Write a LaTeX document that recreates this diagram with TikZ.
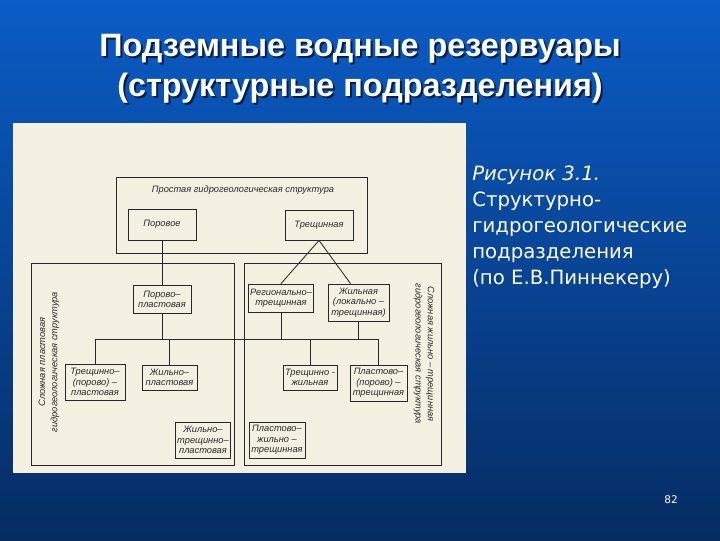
\documentclass[tikz,border=0pt]{standalone}
\usepackage{fontspec}
\setmainfont{Liberation Sans}
\newfontfamily\verd{DejaVu Sans}
\usetikzlibrary{positioning,calc}
\definecolor{bgtop}{RGB}{10,92,198}
\definecolor{bgmid}{RGB}{9,72,160}
\definecolor{bgbot}{RGB}{6,44,98}
\definecolor{scan}{RGB}{244,241,226}
\definecolor{ink}{RGB}{40,40,40}
\definecolor{shadowc}{RGB}{4,30,70}
\newcommand{\pxu}{0.025cm}

\begin{document}
\begin{tikzpicture}[x=0.025cm,y=-0.025cm,
  unit/.style={draw=ink,line width=0.6pt,fill=scan,align=center,text=ink,
               font=\fontsize{6.6}{7.3}\selectfont\itshape,inner sep=1pt},
  frame/.style={draw=ink,line width=0.6pt,inner sep=0pt},
  link/.style={draw=ink,line width=0.6pt},
  vlabel/.style={text=ink,font=\fontsize{6.6}{8.6}\selectfont\itshape,align=center}]
\useasboundingbox (0,0) rectangle (720,540);
\shade[top color=bgtop,middle color=bgmid,bottom color=bgbot] (0,0) rectangle (720,540);
% title
\node[text=shadowc,font=\fontsize{23}{28.4}\selectfont\bfseries,align=center] at (362,71)
  {Подземные водные резервуары\\(структурные подразделения)};
\node[text=white,font=\fontsize{23}{28.4}\selectfont\bfseries,align=center] (title) at (360,69)
  {Подземные водные резервуары\\(структурные подразделения)};
% scanned figure
\fill[scan] (13,123) rectangle (466,473);
\node[frame,minimum width=251*\pxu,minimum height=76*\pxu] (simple) at (241.5,215) {};
\node[frame,minimum width=203*\pxu,minimum height=202*\pxu] (bed) at (132.5,364) {};
\node[frame,minimum width=197*\pxu,minimum height=202*\pxu] (vein) at (342.5,364) {};
\node[vlabel] (simpletxt) at (243,190) {Простая гидрогеологическая структура};
\node[vlabel,rotate=90] (bedtxt) at (49,362) {Сложная пластовая\\гидрогеологическая структура};
\node[vlabel,rotate=-90] (veintxt) at (424,354) {Сложная жильно – трещинная\\гидрогеологическая структура};
\node[unit,minimum width=68*\pxu,minimum height=31*\pxu] (por) at (162,224.5) {Поровое};
\node[unit,minimum width=68*\pxu,minimum height=30*\pxu] (tre) at (319,225) {Трещинная};
\node[unit,minimum width=58*\pxu,minimum height=28*\pxu] (porpl) at (162,299) {Порово–\\пластовая};
\node[unit,minimum width=62*\pxu,minimum height=28*\pxu] (regtr) at (281,298) {Регионально–\\трещинная};
\node[unit,minimum width=61*\pxu,minimum height=37*\pxu] (zhil) at (358.5,302.5) {Жильная\\(локально –\\трещинная)};
\node[unit,minimum width=60*\pxu,minimum height=36*\pxu] (tpp) at (95,382) {Трещинно–\\(порово) –\\пластовая};
\node[unit,minimum width=55*\pxu,minimum height=25*\pxu] (zhp) at (169.5,377.5) {Жильно–\\пластовая};
\node[unit,minimum width=54*\pxu,minimum height=36*\pxu] (ztp) at (203,440) {Жильно–\\трещинно–\\пластовая};
\node[unit,minimum width=56*\pxu,minimum height=36*\pxu] (pzt) at (277,440) {Пластово–\\жильно –\\трещинная};
\node[unit,minimum width=54*\pxu,minimum height=25*\pxu] (trzh) at (310,377.5) {Трещинно -\\жильная};
\node[unit,minimum width=57*\pxu,minimum height=36*\pxu] (ppt) at (378.5,383) {Пластово–\\(порово) –\\трещинная};
\coordinate (bus) at (0,339);
\draw[link] (por) -- (porpl);
\draw[link] (tre.south) -- (regtr.north);
\draw[link] (tre.south) -- ($(zhil.north)+(-8,0)$);
\draw[link] (tpp.north |- bus) -- (ppt.north |- bus);
\draw[link] (porpl.south) -- (porpl.south |- bus);
\draw[link] (regtr.south) -- (regtr.south |- bus);
\draw[link] (zhil.south) -- (zhil.south |- bus);
\draw[link] (tpp.north |- bus) -- (tpp.north);
\draw[link] (zhp.north |- bus) -- (zhp.north);
\draw[link] ($(ztp.north)+(3,0)$ |- bus) -- ($(ztp.north)+(3,0)$);
\draw[link] ($(pzt.north)+(-2,0)$ |- bus) -- ($(pzt.north)+(-2,0)$);
\draw[link] (trzh.north |- bus) -- (trzh.north);
\draw[link] (ppt.north |- bus) -- (ppt.north);
% caption
\node[anchor=north west,inner sep=0pt,text=white,align=left,
      font=\verd\fontsize{14}{18.4}\selectfont] (caption) at (472,166)
  {\itshape Рисунок 3.1.\\Структурно-\\гидрогеологические\\подразделения\\(по Е.В.Пиннекеру)};
\node[text=white,font=\verd\fontsize{7.5}{9}\selectfont] (page) at (671,500) {82};
\end{tikzpicture}
\end{document}
